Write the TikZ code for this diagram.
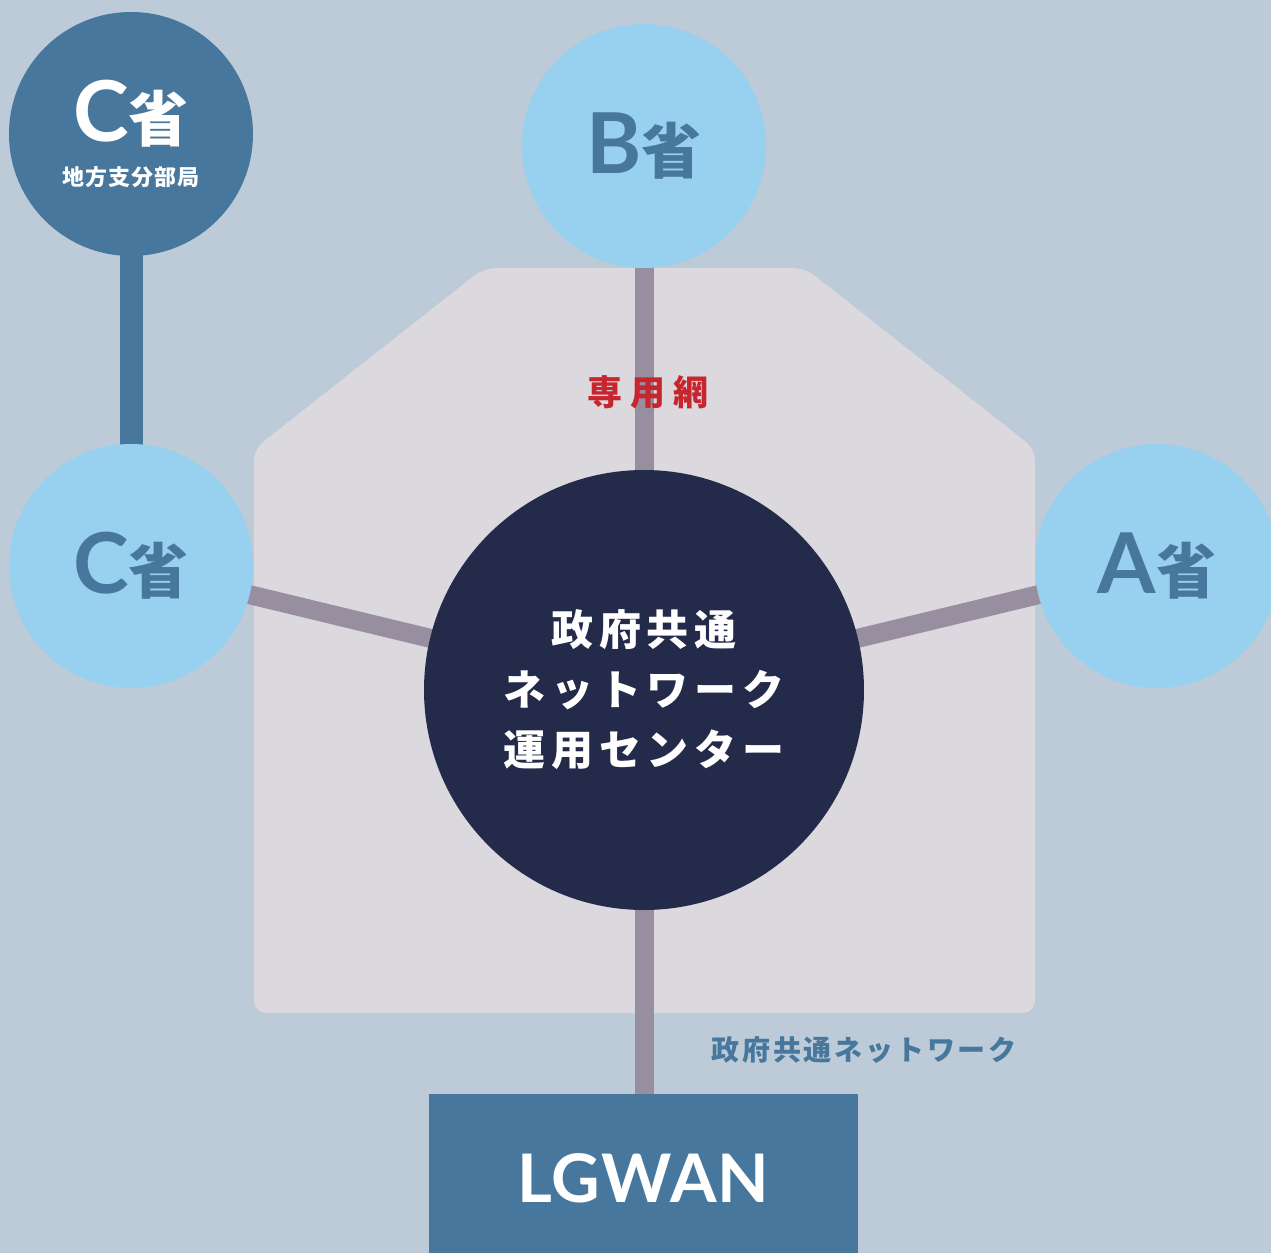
\documentclass[tikz,border=0pt]{standalone}
\usepackage{fontspec}
\setmainfont{Lato}
\newfontfamily\jp{Noto Sans CJK JP}
\usetikzlibrary{positioning}
\usetikzlibrary{backgrounds}

\definecolor{bgblue}{HTML}{BCCBD7}
\definecolor{housegrey}{HTML}{DBD9DD}
\definecolor{navy}{HTML}{232A4A}
\definecolor{skyblue}{HTML}{98D0F0}
\definecolor{steel}{HTML}{47779C}
\definecolor{linkgrey}{HTML}{978FA0}
\definecolor{netred}{HTML}{C8262E}

% ministry label: latin letter + 省
\newcommand{\shoname}[1]{{\bfseries\fontsize{42pt}{42pt}\selectfont #1}{\jp\bfseries\fontsize{30pt}{30pt}\selectfont 省}}

\begin{document}
\begin{tikzpicture}[
  x=0.5pt, y=-0.5pt,
  ministry/.style={circle, fill=skyblue, minimum size=122pt, inner sep=0pt, text=steel},
  branch/.style={circle, fill=steel, minimum size=122pt, inner sep=0pt, text=white, align=center},
  hub/.style={circle, fill=navy, minimum size=220pt, inner sep=0pt, text=white, align=center,
    font={\jp\bfseries\addfontfeatures{LetterSpace=14}\fontsize{21pt}{30pt}\selectfont}},
  wanbox/.style={rectangle, fill=steel, minimum width=214.5pt, minimum height=84pt, inner sep=0pt, text=white,
    font={\bfseries\addfontfeatures{LetterSpace=2}\fontsize{33.5pt}{33.5pt}\selectfont}},
  link/.style={draw=linkgrey, line width=9.5pt},
  uplink/.style={draw=steel, line width=11.5pt},
]
\useasboundingbox (0,0) rectangle (1271,1253);
\clip (0,0) rectangle (1271,1253);

\node (hub) [hub] at (644,690) {政府共通\\ネットワーク\\運用センター};
\node (bsho) [ministry] at (644,146) {\shoname{B}};
\node (csho) [ministry] at (131,566) {\shoname{C}};
\node (asho) [ministry] at (1157,566) {\shoname{A}};
\node (cbranch) [branch] at (131,134) {\shoname{C}\\[9pt]{\jp\bfseries\fontsize{11pt}{13pt}\selectfont\addfontfeatures{LetterSpace=4}地方支分部局}};
\node (lgwan) [wanbox] at (643.5,1178) {LGWAN};

\node (dedicated) [text=netred, font={\jp\bfseries\addfontfeatures{LetterSpace=22}\fontsize{17.5pt}{17.5pt}\selectfont}] at (648,392) {専用網};
\node (gsnet) [text=steel, font={\jp\bfseries\addfontfeatures{LetterSpace=10}\fontsize{14pt}{14pt}\selectfont}] at (864,1050) {政府共通ネットワーク};

\begin{scope}[on background layer]
  \fill[bgblue] (0,0) rectangle (1271,1253);
  % the shared network area
  \fill[housegrey, rounded corners=6pt]
    (254,1013) -- (254,449) -- (484,268) -- (805,268) -- (1035,449) -- (1035,1013) -- cycle;
  \draw[link] (hub.center) -- (bsho.center);
  \draw[link] (hub.center) -- (csho.center);
  \draw[link] (hub.center) -- (asho.center);
  \draw[link] (hub.center) -- (hub.center |- lgwan.north);
  \draw[uplink] (cbranch.center) -- (csho.center);
\end{scope}
\end{tikzpicture}
\end{document}
